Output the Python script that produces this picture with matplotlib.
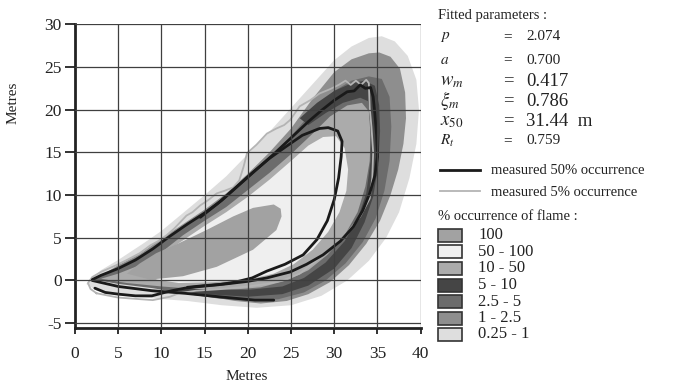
import matplotlib
matplotlib.use("Agg")
import matplotlib.pyplot as plt
from matplotlib.patches import Rectangle

plt.rcParams['font.family'] = ['Liberation Serif', 'DejaVu Serif']
plt.rcParams['mathtext.fontset'] = 'stix'
plt.rcParams['axes.unicode_minus'] = False

# ---------------- data (metres) ----------------
# % occurrence of flame regions (outer boundary of each level)
occ_labels = ['100', '50 - 100', '10 - 50', '5 - 10', '2.5 - 5', '1 - 2.5', '0.25 - 1']
occ_colors = ['#a2a2a2', '#efefef', '#ababab', '#454545', '#6c6c6c', '#8e8e8e', '#dedede']

halo_x = [1.3, 3, 5, 8, 10, 12.5, 15, 17.5, 20, 22.5, 25, 27.5, 30, 32, 34, 35.5, 37, 38.5, 39.5, 39.8,
          39.5, 38.7, 37.5, 36, 34, 31.5, 28.5, 25, 21, 17, 13, 9, 5, 2.5]
halo_y = [-0.4, 1.2, 2.4, 4.4, 5.8, 7.9, 10, 12.2, 14.8, 17.4, 20.2, 23.0, 25.8, 27.4, 28.4, 28.6, 28, 26.3, 23.5, 20,
          16, 12, 8, 5, 2.3, 0, -1.8, -2.9, -3.2, -2.9, -2.4, -2.1, -1.7, -1.2]

r1_x = [2.3, 5, 7.5, 10, 12.5, 15, 17.5, 20, 22.5, 25, 27.5, 30, 32, 34, 35.2, 36.5, 37.6, 38.2, 38.3,
        38, 37.4, 36.5, 35.3, 33.7, 31.7, 29.5, 27, 24.5, 21.5, 18.5, 15, 11, 7, 4]
r1_y = [0.1, 1.8, 3.1, 4.9, 6.6, 8.3, 10.2, 12.5, 15.0, 17.8, 21.3, 24.4, 25.9, 26.6, 26.7, 26.2, 24.8, 22, 19,
        16, 13, 10, 7, 4.3, 1.8, -0.2, -1.6, -2.4, -2.7, -2.4, -1.8, -1.1, -0.5, -0.1]

r25_x = [2.2, 5, 7.5, 10, 12.5, 15, 17.5, 20, 22.5, 25, 27.5, 30, 32, 34, 35.5, 36.4, 36.6,
         36.4, 35.8, 34.8, 33.3, 31.3, 29, 26.5, 23.5, 20, 16.5, 13, 9, 5]
r25_y = [0.1, 1.6, 2.9, 4.6, 6.4, 8.1, 9.9, 12.0, 14.3, 16.9, 19.8, 22.2, 23.4, 23.9, 23.6, 21.5, 18,
         14, 10.5, 7.3, 4.5, 2, 0, -1.4, -2.2, -2.4, -2.1, -1.6, -0.9, -0.4]

r5_x = [12, 15, 20, 24, 27, 30, 32, 33.5, 34.5, 35.1, 35.3, 35.2, 34.7, 33.5, 32, 30, 28, 26,
        27, 29, 31, 33, 33.9, 34.2, 34.2, 33.7, 32.7, 31.2, 29, 26.5, 24, 20, 15, 12]
r5_y = [-1.2, -1.6, -1.9, -1.6, -0.6, 1.4, 3.8, 6.8, 9.8, 13.5, 17.5, 20.5, 22.8, 23.4, 23.1, 22.2, 20.8, 19.0,
        18.2, 19.6, 20.8, 21.4, 21.0, 18, 14, 10.2, 7.2, 4.6, 2.1, 0.3, -0.7, -1.1, -1.0, -1.0]

r10_x = [3, 5, 7.5, 10, 12.5, 15, 17.5, 20, 22.5, 25, 27.5, 29.5, 31.5, 33.2, 34.0, 34.2, 34.1,
         33.6, 32.7, 31.2, 29.2, 27, 24.5, 21.5, 18, 14, 10, 6]
r10_y = [0.2, 0.8, 1.8, 3.3, 5.3, 7.0, 8.6, 10.6, 12.6, 14.8, 17.2, 19.2, 20.5, 20.8, 19.8, 17, 14,
         11, 8, 5.3, 3, 1.2, 0, -0.8, -1.1, -1.0, -0.7, -0.3]

r50_x = [7.5, 8, 10, 12.5, 15, 17.5, 20, 22.5, 25, 27, 28.7, 30.2, 31.2, 31.6, 31.4, 30.6, 29.3,
         27.5, 25.3, 23, 20, 16, 12, 9.5]
r50_y = [1.0, 2.0, 3.0, 4.7, 6.4, 8.0, 9.8, 11.8, 14.0, 15.8, 16.8, 16.9, 15.5, 13, 10.5, 8, 5.7,
         3.6, 1.9, 0.8, 0.1, -0.2, -0.3, 0.1]

r100_x = [6.0, 7.5, 9.4, 12.1, 15.2, 18.3, 20.6, 23.0, 23.8, 23.9, 23.3, 20.6, 16.4, 12.5, 8.7]
r100_y = [0.8, 2.0, 3.2, 4.4, 5.9, 7.5, 8.5, 8.9, 8.4, 7.5, 5.9, 3.6, 1.6, 0.5, 0.1]

# measured 50 % occurrence (black)
m50a_x = [2.0, 3, 5, 7, 9, 11, 13, 15, 17, 19, 21, 23, 25, 27, 28.5, 30, 31.5, 32.3, 33, 33.6, 34.2,
          34.5, 34.7, 34.9, 35.0, 34.7, 34.1, 33.3, 32.2, 30.7, 28.7, 26.8, 24.9, 22.2, 20, 17.5, 15, 13]
m50a_y = [0.1, 0.6, 1.4, 2.4, 3.7, 5.2, 6.6, 7.9, 9.4, 11.2, 13.0, 14.8, 16.7, 18.6, 19.9, 21.1, 22.1, 22.2, 22.9, 22.5, 22.6,
          21.5, 19.5, 17, 14.5, 12.3, 10.2, 8.2, 6.3, 4.6, 3.0, 1.9, 1.0, 0.3, -0.1, -0.4, -0.6, -0.8]
m50b_x = [2.0, 5, 8.9, 12.7, 16.6, 20.8, 23]
m50b_y = [0.0, -0.7, -1.2, -1.5, -1.9, -2.3, -2.3]
m50c_x = [2.3, 3.5, 5, 7, 8.9, 10, 11.2, 12.7, 14.5, 16.6, 18.5, 20.5, 22.2, 24.3, 26.4, 28, 29.2, 30, 30.5,
          30.8, 30.9, 30.4, 29.3, 28.3, 26.3, 24.3, 22.5, 20.5, 18.5, 16.5, 14.5]
m50c_y = [-0.9, -1.4, -1.6, -1.8, -1.8, -1.5, -1.2, -0.9, -0.7, -0.5, -0.2, 0.3, 1.1, 1.9, 3.0, 4.8, 7.0, 9.5, 12,
          14.5, 16.3, 17.5, 17.9, 17.8, 17.0, 15.6, 14.3, 12.6, 10.8, 9.0, 7.4]

# measured 5 % occurrence (light grey)
m05_x = [2.5, 1.8, 1.5, 2.0, 3, 4.8, 6, 7.5, 8.7, 9.6, 10.6, 11.5, 12.9, 13.6, 14.5, 15.4, 16.4, 17.3, 18.3, 19.0,
         19.5, 19.9, 21, 22.2, 23.3, 24.2, 24.9, 26, 27.2, 28.3, 29.5, 30.5, 31.3, 31.9, 32.5, 33.1, 33.7, 34.0,
         34.1, 34.3, 34.5, 34.4, 34.1, 33.0, 31.5, 29.9, 28, 26, 24, 22.2, 20, 17, 14, 12, 11, 9, 5, 2.5]
m05_y = [-1.5, -1.0, -0.3, 0.4, 1.0, 1.8, 2.4, 3.2, 4.1, 4.6, 5.3, 6.1, 7.6, 8.0, 8.8, 9.4, 10.2, 10.5, 10.9, 11.7,
         13.3, 14.9, 15.9, 17.2, 17.8, 18.2, 18.8, 20.4, 21.1, 21.9, 22.4, 22.9, 23.4, 22.9, 23.4, 22.9, 23.5, 23.1,
         20.2, 18, 15, 12, 9.6, 7.5, 5.6, 4.0, 2.4, 0.8, 0.0, -0.4, -0.7, -1.0, -1.2, -1.5, -1.9, -2.3, -2.0, -1.5]

# axes ticks
x_ticks = [0, 5, 10, 15, 20, 25, 30, 35, 40]
y_ticks = [-5, 0, 5, 10, 15, 20, 25, 30]

# fitted parameters panel
param_names = [r'$p$', r'$a$', r'$w_m$', r'$\xi_m$', r'$x_{50}$', r'$R_t$']
param_values = ['2.074', '0.700', '0.417', '0.786', '31.44  m', '0.759']
param_big = [False, False, True, True, True, False]

# ---------------- figure ----------------
W, H = 673, 385
fig = plt.figure(figsize=(W / 100, H / 100), dpi=100)
ax = fig.add_axes([75 / W, 1 - 328.3 / H, (420.7 - 75) / W, (328.3 - 24.3) / H])

regions = [(halo_x, halo_y, occ_colors[6]), (r1_x, r1_y, occ_colors[5]), (r25_x, r25_y, occ_colors[4]),
           (r10_x, r10_y, occ_colors[2]), (r5_x, r5_y, occ_colors[3]), (r50_x, r50_y, occ_colors[1]),
           (r100_x, r100_y, occ_colors[0])]
for i, (xs, ys, c) in enumerate(regions):
    ax.fill(xs, ys, color=c, lw=0, zorder=1 + i * 0.1)

ax.plot(m05_x, m05_y, color='#b4b4b4', lw=1.3, zorder=3)
for xs, ys in [(m50a_x, m50a_y), (m50b_x, m50b_y), (m50c_x, m50c_y)]:
    ax.plot(xs, ys, color='#1a1a1a', lw=2.0, zorder=4, solid_capstyle='round')

ax.set_xlim(0, 40)
ax.set_ylim(-5.6, 30)
ax.set_xticks(x_ticks)
ax.set_yticks(y_ticks)
ax.set_yticklabels([str(v) for v in y_ticks])
for v in x_ticks[1:]:
    ax.axvline(v, color='#3f3f3f', lw=0.9, zorder=5)
for v in y_ticks:
    ax.axhline(v, color='#3f3f3f', lw=0.9, zorder=5)
ax.tick_params(axis='y', direction='out', length=7.5, width=1.3, pad=2, labelsize=12.5, colors='#222222')
ax.tick_params(axis='x', direction='out', length=4, width=1.3, pad=9, labelsize=12.5, colors='#222222')
for s in ['top', 'right']:
    ax.spines[s].set_visible(False)
ax.spines['left'].set_linewidth(2.0)
ax.spines['bottom'].set_linewidth(2.0)
ax.spines['left'].set_color('#222222')
ax.spines['bottom'].set_color('#222222')

# overlay in pixel coordinates for text panel
ov = fig.add_axes([0, 0, 1, 1], zorder=10)
ov.set_xlim(0, W)
ov.set_ylim(H, 0)
ov.axis('off')
tc = '#222222'
ov.text(247, 377, 'Metres', ha='center', va='center', fontsize=11, color=tc)
ov.text(13, 103, 'Metres', ha='center', va='center', fontsize=11, color=tc, rotation=90)

ov.text(438, 15, 'Fitted parameters :', ha='left', va='center', fontsize=10.5, color=tc)
row_y = [37, 60, 81, 101, 121, 141]
for name, val, big, yy in zip(param_names, param_values, param_big, row_y):
    fs = 13.5 if big else 11
    ov.text(440, yy, name, ha='left', va='center', fontsize=fs, color=tc)
    ov.text(508, yy, '=', ha='center', va='center', fontsize=fs, color=tc)
    ov.text(526, yy, val, ha='left', va='center', fontsize=fs, color=tc)

ov.plot([440, 480], [170, 170], color='#1a1a1a', lw=2.0)
ov.text(491, 171, 'measured 50% occurrence', ha='left', va='center', fontsize=10.5, color=tc)
ov.plot([440, 480], [191, 191], color='#b4b4b4', lw=1.3)
ov.text(491, 192, 'measured 5% occurrence', ha='left', va='center', fontsize=10.5, color=tc)
ov.text(438, 217, '% occurrence of flame :', ha='left', va='center', fontsize=10.5, color=tc)

sw_y = [235, 251.7, 268.3, 285, 301.7, 318.3, 334]
for lab, col, yy in zip(occ_labels, occ_colors, sw_y):
    ov.add_patch(Rectangle((438, yy - 6.5), 24, 13, facecolor=col, edgecolor='#333333', lw=1.2))
    ov.text(478, yy, lab, ha='left', va='center', fontsize=12, color=tc)

fig.savefig('out.png', dpi=100)
